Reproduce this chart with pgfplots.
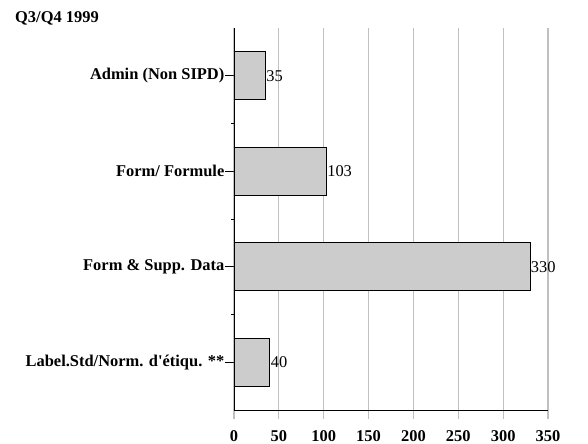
\documentclass[border=0pt]{standalone}
\usepackage{pgfplots}
\pgfplotsset{compat=1.18}
\usepackage{fontspec}
\setmainfont{Liberation Serif}
\definecolor{barfill}{HTML}{CCCCCC}
\definecolor{gridc}{HTML}{C0C0C0}
\begin{document}
\begin{tikzpicture}
\path[use as bounding box] (-234bp,-34bp) rectangle (354bp,410bp);
\begin{axis}[
  at={(0,0)}, anchor=south west,
  scale only axis,
  width=314bp, height=382bp,
  xmin=0, xmax=350,
  ymin=0.5, ymax=4.5,
  y dir=reverse,
  axis x line=bottom, axis y line=left,
  axis line style={-, black, line width=0.9pt},
  xtick={0,50,...,350},
  ytick={1,2,3,4},
  yticklabels={Admin (Non SIPD), Form/ Formule, Form \& Supp. Data, Label.Std/Norm. d\textquotesingle étiqu. **},
  minor ytick={1.5,2.5,3.5},
  xmajorgrids,
  major grid style={gridc, line width=1.2pt},
  x tick style={gridc, line width=1.2pt},
  tick align=outside,
  xtick align=outside,
  major tick length=9bp,
  minor tick length=2.5bp,
  y tick style={black, line width=0.8pt},
  minor y tick style={black, line width=1pt},
  /pgf/number format/assume math mode=true,
  ticklabel style={font=\bfseries\fontsize{16.5}{19}\selectfont},
  yticklabel style={inner sep=0.5bp},
  xticklabel style={yshift=-8bp},
  xbar,
  bar width=48bp,
  nodes near coords,
  nodes near coords style={font=\fontsize{16.5}{19}\selectfont, anchor=west, inner sep=0.5bp, /pgf/number format/assume math mode=true},
  clip=false,
]
\addplot[fill=barfill, draw=black, line width=0.8pt] coordinates {(35,1) (103,2) (330,3) (40,4)};
\end{axis}
\node[anchor=base west, font=\bfseries\fontsize{16.5}{19}\selectfont, inner sep=0pt] at (-219bp,387bp) {Q3/Q4 1999};
\end{tikzpicture}
\end{document}
